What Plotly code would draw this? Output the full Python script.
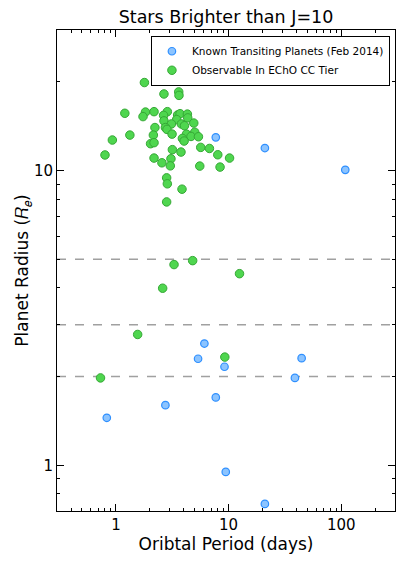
import math
import plotly.graph_objects as go

# Known transiting planets (Feb 2014)
known_period = [7.7, 21, 108.6, 6.1, 5.36, 44.5, 9.2, 38.8, 7.7, 2.75, 0.83, 9.44, 21]
known_radius = [12.97, 11.93, 10.06, 2.59, 2.30, 2.31, 2.16, 1.98, 1.70, 1.60, 1.45, 0.95, 0.74]

# Observable in EChO CC tier
echo_period = [9.26, 0.73, 1.56, 2.6, 3.28, 4.8, 12.5, 2.82, 3.86,
               1.79, 2.67, 3.61, 3.63, 1.20, 1.83, 2.18, 1.74, 2.86, 2.65,
               3.53, 3.71, 4.31, 4.34, 3.46, 2.67, 3.11, 3.81, 4.06, 4.91,
               2.75, 2.22, 2.84, 1.33, 3.15, 2.15, 5.01, 4.23, 4.64, 5.40,
               3.89, 4.03, 0.93, 2.03, 2.18, 0.80, 3.17, 3.78, 5.66, 6.76,
               8.02, 10.2, 2.18, 2.56, 3.08, 3.04, 5.55, 8.4, 2.82, 2.86]
echo_radius = [2.33, 1.98, 2.78, 3.99, 4.80, 4.95, 4.47, 7.83, 8.65,
               19.9, 18.2, 18.5, 18.0, 15.65, 15.8, 15.85, 15.25, 15.85, 15.4,
               15.45, 15.6, 15.55, 15.1, 14.9, 14.75, 14.4, 14.4, 14.2, 14.5,
               14.0, 14.0, 13.8, 13.2, 13.3, 13.2, 13.5, 13.3, 13.06, 13.03,
               12.86, 12.6, 12.7, 12.34, 12.44, 11.3, 11.78, 11.56, 11.99, 11.89,
               11.32, 11.03, 11.03, 10.63, 10.97, 10.38, 10.36, 10.28, 9.45, 9.02]

ref_radii = [2, 3, 5]
x_range = [0.3, 300]
y_range = [0.7, 30]
x_major = [1, 10, 100]
x_minor = [0.3, 0.4, 0.5, 0.6, 0.7, 0.8, 0.9, 2, 3, 4, 5, 6, 7, 8, 9,
           20, 30, 40, 50, 60, 70, 80, 90, 200, 300]
y_major = [1, 10]
y_minor = [0.7, 0.8, 0.9, 2, 3, 4, 5, 6, 7, 8, 9, 20, 30]

FONT = "DejaVu Sans"

fig = go.Figure()
fig.add_trace(go.Scatter(
    x=known_period, y=known_radius, mode="markers",
    name="Known Transiting Planets (Feb 2014)",
    marker=dict(size=7.5, color="#8cc4ff", line=dict(color="#2e8fff", width=1.2)),
))
fig.add_trace(go.Scatter(
    x=echo_period, y=echo_radius, mode="markers",
    name="Observable In EChO CC Tier",
    marker=dict(size=8.5, color="#4fd64f", line=dict(color="#35a835", width=1)),
))

for r in ref_radii:
    fig.add_shape(type="line", xref="paper", x0=0, x1=1, yref="y", y0=r, y1=r,
                  line=dict(color="#a0a0a0", width=1.5, dash="dash"), layer="below")

axis_common = dict(
    type="log", showgrid=False, zeroline=False, showline=True, linecolor="black",
    linewidth=1, mirror="allticks", ticks="inside", ticklen=7, tickcolor="black",
    tickfont=dict(family=FONT, size=15, color="black"), automargin=False,
)

fig.update_xaxes(
    **axis_common,
    range=[math.log10(x_range[0]), math.log10(x_range[1])],
    tickmode="array", tickvals=x_major, ticktext=[str(v) for v in x_major],
    minor=dict(tickmode="array", tickvals=x_minor, ticks="inside", ticklen=3,
               tickcolor="black", showgrid=False),
    title=dict(text="Oribtal Period (days)", font=dict(family=FONT, size=17, color="black"),
               standoff=5),
)
fig.update_yaxes(
    **axis_common,
    range=[math.log10(y_range[0]), math.log10(y_range[1])],
    tickmode="array", tickvals=y_major, ticktext=[str(v) for v in y_major],
    minor=dict(tickmode="array", tickvals=y_minor, ticks="inside", ticklen=3,
               tickcolor="black", showgrid=False),
    title=dict(text="Planet Radius (𝑅<sub>𝑒</sub>)", font=dict(family=FONT, size=17, color="black"),
               standoff=0),
)

fig.update_layout(
    template="none",
    width=407, height=564,
    margin=dict(l=57, r=12, t=30, b=53, autoexpand=False),
    paper_bgcolor="white", plot_bgcolor="white",
    title=dict(text="Stars Brighter than J=10", x=0.5, xanchor="center", xref="paper",
               y=1 - 17 / 564, yanchor="middle", yref="container",
               font=dict(family=FONT, size=17.5, color="black")),
    font=dict(family=FONT, color="black"),
    legend=dict(x=0.985, y=0.988, xanchor="right", yanchor="top",
                bordercolor="black", borderwidth=1, bgcolor="white",
                font=dict(family=FONT, size=10.5, color="black"),
                itemwidth=30, tracegroupgap=0),
    showlegend=True,
)

fig.write_html("out.html", config={"displayModeBar": False},
               post_script="document.body.style.margin='0';")
